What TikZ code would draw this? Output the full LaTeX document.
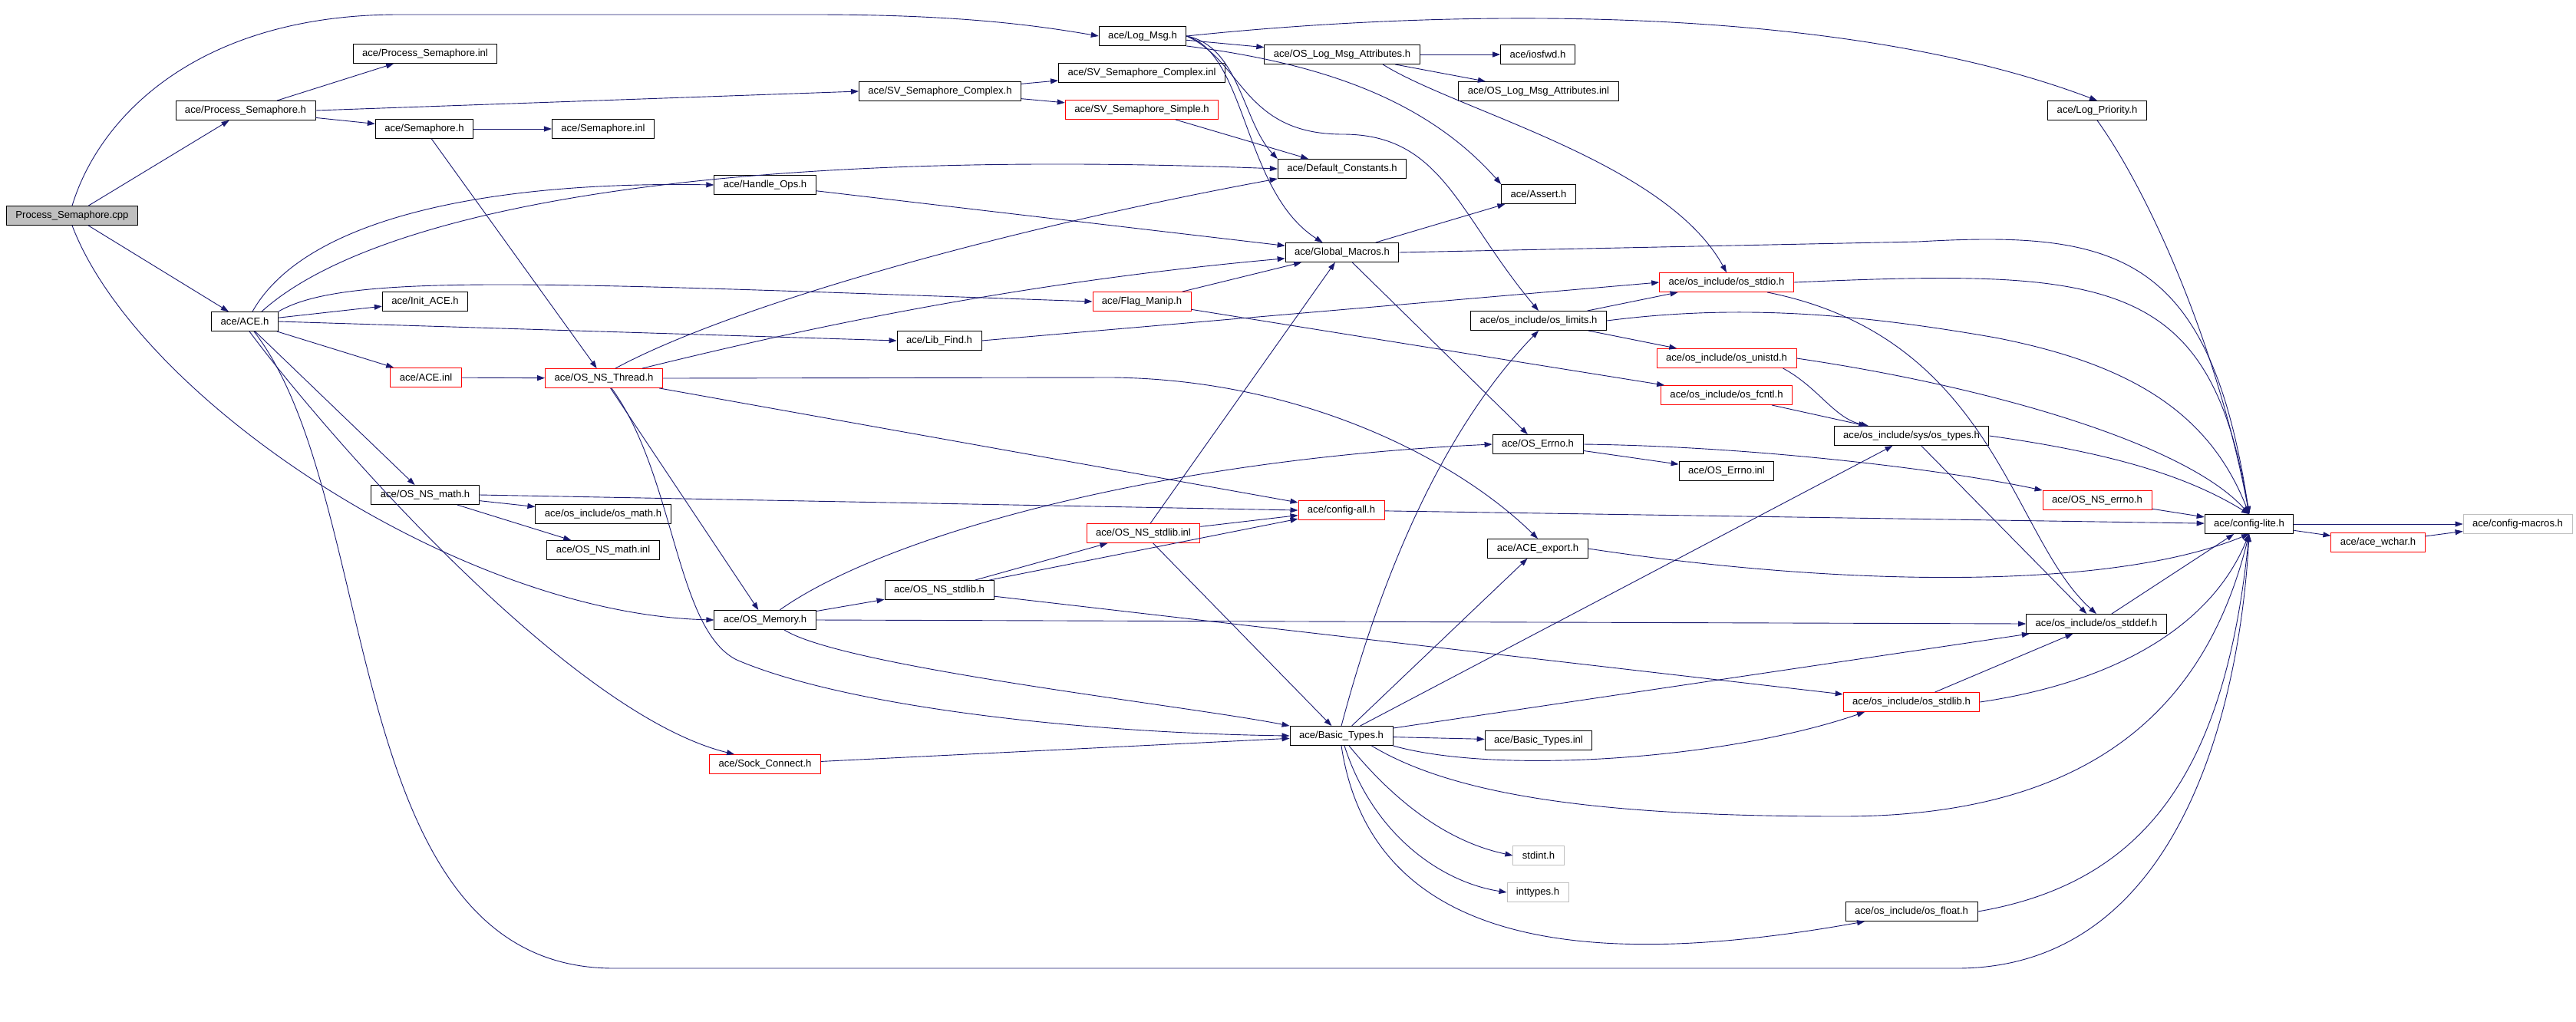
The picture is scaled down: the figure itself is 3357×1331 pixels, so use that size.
\documentclass[tikz,border=0pt]{standalone}
\usepackage{fontspec}
\setmainfont{Liberation Sans}
\usetikzlibrary{arrows.meta}
\definecolor{edgeblue}{HTML}{191970}
\definecolor{boxgrey}{HTML}{BFBFBF}
\begin{document}
\begin{tikzpicture}[x=1pt,y=-1pt,
  hfile/.style={draw=black,line width=0.9pt,minimum height=25pt,inner xsep=12pt,inner ysep=0pt,font=\fontsize{13.1}{15}\selectfont},
  redfile/.style={hfile,draw=red},
  sysfile/.style={hfile,draw=boxgrey},
  srcfile/.style={hfile,fill=boxgrey},
  inc/.style={draw=edgeblue,line width=0.9pt,-{Triangle[length=10pt,width=7pt]}}]
\useasboundingbox (0,0) rectangle (3357,1331);
\node[srcfile] (cpp) at (94,281) {Process\_Semaphore.cpp};
\node[hfile] (psemi) at (554,70) {ace/Process\_Semaphore.inl};
\node[hfile] (psemh) at (320,144) {ace/Process\_Semaphore.h};
\node[hfile] (semh) at (553,168) {ace/Semaphore.h};
\node[hfile] (aceh) at (319,419) {ace/ACE.h};
\node[hfile] (initace) at (554,393) {ace/Init\_ACE.h};
\node[hfile] (svch) at (1225,119) {ace/SV\_Semaphore\_Complex.h};
\node[hfile] (semi) at (786,168) {ace/Semaphore.inl};
\node[hfile] (handleops) at (997,241) {ace/Handle\_Ops.h};
\node[hfile] (libfind) at (1224,444) {ace/Lib\_Find.h};
\node[hfile] (logmsg) at (1489,47) {ace/Log\_Msg.h};
\node[hfile] (attr) at (1749,71) {ace/OS\_Log\_Msg\_Attributes.h};
\node[hfile] (iosfwd) at (2004,71) {ace/iosfwd.h};
\node[hfile] (attri) at (2005,119) {ace/OS\_Log\_Msg\_Attributes.inl};
\node[hfile] (svci) at (1488,95) {ace/SV\_Semaphore\_Complex.inl};
\node[redfile] (svsh) at (1488,143) {ace/SV\_Semaphore\_Simple.h};
\node[hfile] (defconst) at (1749,220) {ace/Default\_Constants.h};
\node[hfile] (assert) at (2005,253) {ace/Assert.h};
\node[hfile] (globalmacros) at (1749,329) {ace/Global\_Macros.h};
\node[redfile] (flagmanip) at (1488,393) {ace/Flag\_Manip.h};
\node[redfile] (osstdio) at (2250,368) {ace/os\_include/os\_stdio.h};
\node[hfile] (oslimits) at (2005,418) {ace/os\_include/os\_limits.h};
\node[hfile] (logpriority) at (2733,144) {ace/Log\_Priority.h};
\node[redfile] (osnserrno) at (2733,652) {ace/OS\_NS\_errno.h};
\node[hfile] (configlite) at (2931,683) {ace/config-lite.h};
\node[redfile] (acewchar) at (3099,707) {ace/ace\_wchar.h};
\node[sysfile] (configmacros) at (3281,683) {ace/config-macros.h};
\node[redfile] (aceinl) at (555,492) {ace/ACE.inl};
\node[redfile] (osnsthread) at (787,493) {ace/OS\_NS\_Thread.h};
\node[hfile] (osnsmath) at (554,645) {ace/OS\_NS\_math.h};
\node[hfile] (osmath) at (786,670) {ace/os\_include/os\_math.h};
\node[hfile] (osnsmathi) at (786,717) {ace/OS\_NS\_math.inl};
\node[redfile] (osnsstdlibi) at (1490,695) {ace/OS\_NS\_stdlib.inl};
\node[hfile] (osnsstdlibh) at (1224,769) {ace/OS\_NS\_stdlib.h};
\node[hfile] (osmem) at (997,808) {ace/OS\_Memory.h};
\node[redfile] (osunistd) at (2250,467) {ace/os\_include/os\_unistd.h};
\node[redfile] (osfcntl) at (2250,515) {ace/os\_include/os\_fcntl.h};
\node[hfile] (oserrno) at (2004,579) {ace/OS\_Errno.h};
\node[hfile] (ostypes) at (2491,568) {ace/os\_include/sys/os\_types.h};
\node[hfile] (oserrnoi) at (2250,614) {ace/OS\_Errno.inl};
\node[redfile] (configall) at (1748,665) {ace/config-all.h};
\node[hfile] (aceexport) at (2004,715) {ace/ACE\_export.h};
\node[redfile] (sockconn) at (997,996) {ace/Sock\_Connect.h};
\node[hfile] (basictypes) at (1748,959) {ace/Basic\_Types.h};
\node[hfile] (basictypesi) at (2005,965) {ace/Basic\_Types.inl};
\node[sysfile] (stdint) at (2005,1115) {stdint.h};
\node[sysfile] (inttypes) at (2004,1163) {inttypes.h};
\node[hfile] (osstddef) at (2732,813) {ace/os\_include/os\_stddef.h};
\node[redfile] (osstdlib) at (2491,915) {ace/os\_include/os\_stdlib.h};
\node[hfile] (osfloat) at (2491,1188) {ace/os\_include/os\_float.h};
\draw[inc] (cpp.north) .. controls (130,150) and (260,19) .. (520,19) -- (1060,19) .. controls (1250,19) and (1350,33) .. (logmsg.west);
\draw[inc] (cpp) -- (psemh);
\draw[inc] (cpp) -- (aceh);
\draw[inc] (cpp.south) .. controls (180,520) and (600,800) .. (osmem.west);
\draw[inc] (psemh) -- (psemi);
\draw[inc] (psemh.east) -- (svch.west);
\draw[inc] (psemh) -- (semh);
\draw[inc] (semh) -- (semi);
\draw[inc] (semh) -- (osnsthread);
\draw[inc] ([xshift=10]aceh.north) .. controls (400,280) and (650,236) .. (handleops.west);
\draw[inc] ([xshift=22]aceh.north) .. controls (480,280) and (900,190) .. (defconst.west);
\draw[inc] (aceh.north east) .. controls (450,355) and (700,368) .. (flagmanip.west);
\draw[inc] (aceh) -- (initace);
\draw[inc] (aceh.east) -- (libfind.west);
\draw[inc] (aceh) -- (aceinl);
\draw[inc] (aceh) -- (osnsmath);
\draw[inc] ([xshift=6]aceh.south) .. controls (420,560) and (740,930) .. ([xshift=-40]sockconn.north);
\draw[inc] ([xshift=12]aceh.south) .. controls (500,650) and (440,1262) .. (800,1262) -- (2550,1262) .. controls (2850,1262) and (2920,900) .. (configlite.south);
\draw[inc] (svch) -- (svci);
\draw[inc] (svch) -- (svsh);
\draw[inc] (svsh) -- (defconst);
\draw[inc] (logmsg.east) .. controls (1900,10) and (2400,5) .. (logpriority.north);
\draw[inc] (logmsg) -- (attr);
\draw[inc] (logmsg.east) .. controls (1615,60) and (1620,160) .. (defconst.north west);
\draw[inc] (logmsg.east) .. controls (1625,70) and (1620,250) .. (globalmacros.153);
\draw[inc] (logmsg.east) .. controls (1620,80) and (1620,175) .. (1750,175) .. controls (1880,175) and (1900,280) .. (oslimits.north);
\draw[inc] (logmsg.south east) .. controls (1700,80) and (1850,120) .. (assert.north west);
\draw[inc] (attr) -- (iosfwd);
\draw[inc] (attr) -- (attri);
\draw[inc] ([xshift=53]attr.south) .. controls (1900,145) and (2170,210) .. (osstdio.north);
\draw[inc] (handleops) -- (globalmacros);
\draw[inc] (globalmacros) -- (assert);
\draw[inc] (globalmacros.east) -- (2500,315) .. controls (2760,300) and (2880,330) .. (configlite.north);
\draw[inc] (globalmacros) -- (oserrno);
\draw[inc] (flagmanip) -- (globalmacros);
\draw[inc] (flagmanip) -- (osfcntl);
\draw[inc] (libfind.east) -- (osstdio.west);
\draw[inc] (aceinl) -- (osnsthread);
\draw[inc] ([xshift=15]osnsthread.north) .. controls (950,400) and (1300,300) .. (defconst.south west);
\draw[inc] ([xshift=50]osnsthread.north) .. controls (1000,440) and (1300,370) .. (globalmacros.186);
\draw[inc] (osnsthread.east) -- (1450,492) .. controls (1700,495) and (1900,600) .. (aceexport.north);
\draw[inc] (osnsthread) -- (configall);
\draw[inc] (osnsthread) -- (osmem);
\draw[inc] ([xshift=10]osnsthread.south) .. controls (880,620) and (880,820) .. (960,860) .. controls (1100,920) and (1400,955) .. (basictypes.west);
\draw[inc] (osnsmath) -- (osmath);
\draw[inc] (osnsmath) -- (osnsmathi);
\draw[inc] (osnsmath.east) -- (configall.west);
\draw[inc] ([xshift=19]osmem.north) .. controls (1150,700) and (1500,600) .. (oserrno.west);
\draw[inc] (osmem) -- (osnsstdlibh);
\draw[inc] (osmem.east) -- (osstddef.west);
\draw[inc] ([xshift=25]osmem.south) .. controls (1100,870) and (1550,920) .. (basictypes.north west);
\draw[inc] (osnsstdlibh) -- (osnsstdlibi);
\draw[inc] (osnsstdlibh) -- (configall);
\draw[inc] (osnsstdlibh) -- (osstdlib);
\draw[inc] (osnsstdlibi) -- (globalmacros);
\draw[inc] (osnsstdlibi) -- (configall);
\draw[inc] (osnsstdlibi) -- (basictypes);
\draw[inc] (sockconn) -- (basictypes);
\draw[inc] (basictypes.north) .. controls (1800,750) and (1880,560) .. (oslimits.south);
\draw[inc] (basictypes) -- (aceexport);
\draw[inc] (basictypes) -- (ostypes);
\draw[inc] (basictypes) -- (osstddef);
\draw[inc] (basictypes) -- (basictypesi);
\draw[inc] ([xshift=-28]basictypes.south east) .. controls (1900,1040) and (2100,1064) .. (2400,1064) .. controls (2750,1064) and (2880,900) .. (configlite.south);
\draw[inc] (basictypes.south east) .. controls (1950,1010) and (2250,990) .. (osstdlib.192);
\draw[inc] ([xshift=10]basictypes.south) .. controls (1830,1060) and (1900,1100) .. (stdint.west);
\draw[inc] ([xshift=4]basictypes.south) .. controls (1790,1090) and (1880,1150) .. (inttypes.west);
\draw[inc] (basictypes.south) .. controls (1790,1250) and (2100,1260) .. (osfloat.192);
\draw[inc] (configall) -- (configlite);
\draw[inc] (osstdio.east) .. controls (2750,350) and (2880,360) .. (configlite.north);
\draw[inc] ([xshift=53]osstdio.south) .. controls (2600,440) and (2620,700) .. (osstddef.north);
\draw[inc] (oslimits) -- (osstdio);
\draw[inc] (oslimits.east) .. controls (2250,398) and (2400,405) .. (2600,440) .. controls (2780,475) and (2880,540) .. (configlite.north);
\draw[inc] (oslimits) -- (osunistd);
\draw[inc] (osunistd.-10) .. controls (2370,505) and (2390,545) .. (ostypes.167);
\draw[inc] (osunistd.east) .. controls (2600,505) and (2850,580) .. (configlite.north);
\draw[inc] (osfcntl) -- (ostypes);
\draw[inc] (oserrno) -- (oserrnoi);
\draw[inc] (oserrno.east) .. controls (2300,582) and (2550,615) .. (osnserrno.north west);
\draw[inc] (osnserrno) -- (configlite);
\draw[inc] (ostypes.east) .. controls (2750,590) and (2850,620) .. (configlite.north);
\draw[inc] (ostypes) -- (osstddef);
\draw[inc] (aceexport.east) .. controls (2400,765) and (2750,770) .. (configlite.south);
\draw[inc] (osstddef) -- (configlite);
\draw[inc] (osstdlib) -- (osstddef);
\draw[inc] (osstdlib.east) .. controls (2750,890) and (2880,820) .. (configlite.south);
\draw[inc] (osfloat.east) .. controls (2800,1150) and (2900,1000) .. (configlite.south);
\draw[inc] (logpriority.south) .. controls (2800,250) and (2890,450) .. (configlite.north);
\draw[inc] (configlite) -- (configmacros);
\draw[inc] (configlite) -- (acewchar);
\draw[inc] (acewchar) -- (configmacros);
\end{tikzpicture}
\end{document}
